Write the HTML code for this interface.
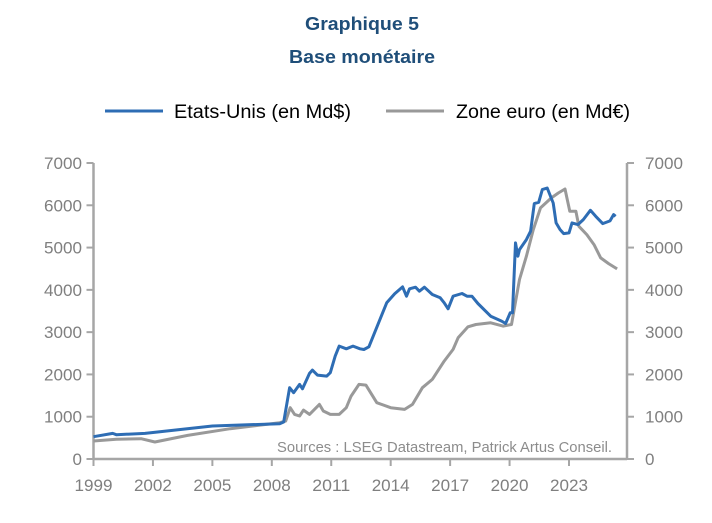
<!DOCTYPE html>
<html><head><meta charset="utf-8"><style>
html,body{margin:0;padding:0;background:#fff;}
svg{display:block;font-family:"Liberation Sans",sans-serif;}
</style></head><body>
<svg id="chart" width="712" height="523" viewBox="0 0 712 523" xmlns="http://www.w3.org/2000/svg">
<text x="362" y="30" text-anchor="middle" font-size="18" font-weight="bold" fill="#1f4e79" textLength="114" lengthAdjust="spacingAndGlyphs">Graphique 5</text>
<text x="362" y="63" text-anchor="middle" font-size="18" font-weight="bold" fill="#1f4e79" textLength="146" lengthAdjust="spacingAndGlyphs">Base monétaire</text>
<g>
<line x1="105" y1="111" x2="163" y2="111" stroke="#2e6db4" stroke-width="3"/>
<text x="174" y="118" font-size="19" fill="#000" textLength="177" lengthAdjust="spacingAndGlyphs">Etats-Unis (en Md$)</text>
<line x1="386" y1="111" x2="444" y2="111" stroke="#999" stroke-width="3"/>
<text x="456" y="118" font-size="19" fill="#000" textLength="174" lengthAdjust="spacingAndGlyphs">Zone euro (en Md€)</text>
</g>
<g id="axes"></g>
<g id="series"></g>
<text x="612" y="452" text-anchor="end" font-size="15" fill="#8c8c8c" textLength="335" lengthAdjust="spacingAndGlyphs">Sources : LSEG Datastream, Patrick Artus Conseil.</text>
</svg>
<script>
const yTicks = [0,1000,2000,3000,4000,5000,6000,7000];
const xTicks = [1999,2002,2005,2008,2011,2014,2017,2020,2023];
const usYears = [1999.0,1999.97,2000.15,2001.6,2005.0,2008.4,2008.6,2008.9,2009.1,2009.4,2009.55,2009.9,2010.05,2010.3,2010.77,2010.95,2011.2,2011.4,2011.76,2012.1,2012.45,2012.65,2012.9,2013.8,2014.2,2014.6,2014.8,2014.95,2015.25,2015.45,2015.7,2016.1,2016.5,2016.7,2016.9,2017.15,2017.6,2017.85,2018.1,2018.4,2019.05,2019.6,2019.8,2020.03,2020.15,2020.3,2020.42,2020.5,2020.85,2021.06,2021.25,2021.47,2021.65,2021.9,2022.2,2022.35,2022.55,2022.73,2023.0,2023.15,2023.45,2023.72,2024.08,2024.35,2024.7,2025.07,2025.25,2025.35];
const usValues = [528,606,575,606,780,835,874,1685,1567,1764,1661,2024,2102,1984,1960,2040,2433,2670,2606,2670,2606,2590,2654,3693,3906,4071,3850,4024,4063,3969,4063,3890,3811,3693,3551,3850,3913,3850,3850,3677,3378,3260,3205,3457,3457,5110,4795,4953,5189,5386,6040,6071,6370,6409,6055,5583,5425,5331,5346,5583,5543,5661,5882,5740,5567,5630,5780,5740];
const euYears = [1999.0,2000.15,2001.4,2002.1,2003.75,2005.9,2008.4,2008.7,2008.93,2009.15,2009.4,2009.6,2009.9,2010.4,2010.6,2010.95,2011.4,2011.76,2012.0,2012.4,2012.75,2013.3,2014.0,2014.7,2015.1,2015.6,2016.1,2016.7,2017.15,2017.4,2017.9,2018.3,2019.05,2019.67,2020.1,2020.5,2020.85,2021.2,2021.56,2022.1,2022.46,2022.8,2023.04,2023.35,2023.5,2023.9,2024.26,2024.6,2025.0,2025.43];
const euValues = [425,465,480,402,559,717,858,898,1213,1055,1016,1157,1055,1291,1134,1055,1055,1213,1488,1764,1748,1331,1213,1173,1291,1685,1882,2315,2591,2866,3126,3181,3220,3142,3181,4244,4795,5425,5937,6173,6291,6386,5858,5858,5504,5307,5071,4756,4622,4496];

const NS="http://www.w3.org/2000/svg";
const X0=93.5, X1=627, Y0=459, Y1=163;
const xScale = yr => X0 + (yr-1999)*(569-X0)/24;
const yScale = v => Y0 - v*(Y0-Y1)/7000;
function mk(tag, attrs, parent){const e=document.createElementNS(NS,tag);for(const k in attrs)e.setAttribute(k,attrs[k]);parent.appendChild(e);return e;}
const axes=document.getElementById('axes');
const AX="#a6a6a6", TXT="#7f7f7f";
let l=mk('line',{x1:X0,y1:Y1,x2:X0,y2:Y0+1,stroke:AX,'stroke-width':2.5},axes);


l=mk('line',{x1:X1,y1:Y1,x2:X1,y2:Y0+1,stroke:AX,'stroke-width':2.5},axes);


l=mk('line',{x1:X0,y1:Y0,x2:X1,y2:Y0,stroke:AX,'stroke-width':2.5},axes);


yTicks.forEach(v=>{
  const y=yScale(v);
  let t=mk('line',{x1:X0-7,y1:y,x2:X0,y2:y,stroke:AX,'stroke-width':2},axes);
  
  
  t=mk('line',{x1:X1,y1:y,x2:X1+7,y2:y,stroke:AX,'stroke-width':2},axes);
  
  
  let tx=mk('text',{x:82,y:y+6,'text-anchor':'end','font-size':17,fill:TXT},axes);
  tx.textContent=v;
  if(v>=1000){tx.setAttribute('textLength',38);tx.setAttribute('lengthAdjust','spacingAndGlyphs');}
  
  
  tx=mk('text',{x:645,y:y+6,'text-anchor':'start','font-size':17,fill:TXT},axes);
  tx.textContent=v;
  if(v>=1000){tx.setAttribute('textLength',38);tx.setAttribute('lengthAdjust','spacingAndGlyphs');}
  
  
});
xTicks.forEach(yr=>{
  const x=xScale(yr);
  let t=mk('line',{x1:x,y1:Y0,x2:x,y2:Y0+7,stroke:AX,'stroke-width':2},axes);
  
  
  let tx=mk('text',{x:x,y:491,'text-anchor':'middle','font-size':17,fill:TXT,textLength:38,lengthAdjust:'spacingAndGlyphs'},axes);
  tx.textContent=yr;
  
  
});
const series=document.getElementById('series');
function path(xs,vs){return xs.map((yr,i)=>(i?'L':'M')+xScale(yr).toFixed(1)+','+yScale(vs[i]).toFixed(1)).join(' ');}
let p=mk('path',{d:path(euYears,euValues),fill:'none',stroke:'#999999','stroke-width':3,'stroke-linejoin':'round'},series);


p=mk('path',{d:path(usYears,usValues),fill:'none',stroke:'#2e6db4','stroke-width':3,'stroke-linejoin':'round'},series);


</script>
</body></html>
